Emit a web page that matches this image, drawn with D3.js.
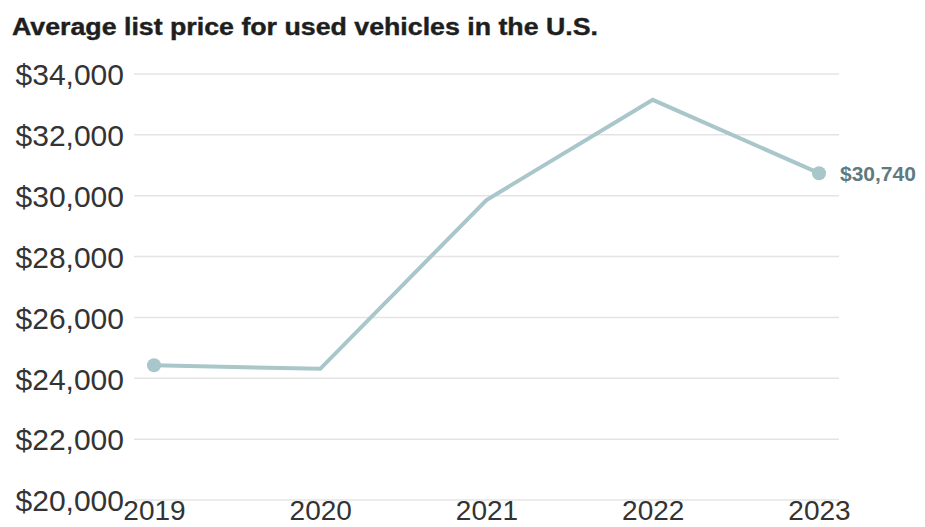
<!DOCTYPE html>
<html><head><meta charset="utf-8">
<script src="https://cdn.jsdelivr.net/npm/d3@7"></script>
<style>body{margin:0;background:#fff;} svg{display:block;}</style>
</head><body>
<svg id="c" width="925" height="527"></svg>
<script>
const title = "Average list price for used vehicles in the U.S.";
const years = [2019, 2020, 2021, 2022, 2023];
const prices = [24430, 24310, 29860, 33150, 30740];
const yTicks = [20000, 22000, 24000, 26000, 28000, 30000, 32000, 34000];
const endLabel = "$30,740";

const svg = d3.select("#c");
const x = d3.scaleLinear().domain([2019, 2023]).range([154, 819]);
const y = d3.scaleLinear().domain([20000, 34000]).range([500, 74]);

svg.append("text").attr("x", 12).attr("y", 35)
  .attr("font-family", "Liberation Sans, Arial, sans-serif")
  .attr("font-weight", "bold").attr("font-size", 23).attr("fill", "#1e1e1e")
  .attr("stroke", "#1e1e1e").attr("stroke-width", 0.4)
  .attr("textLength", 586).attr("lengthAdjust", "spacingAndGlyphs")
  .text(title);

const yAxis = d3.axisLeft(y).tickValues(yTicks).tickSize(0).tickPadding(0)
  .tickFormat(d => "$" + d3.format(",")(d));
const gy = svg.append("g").attr("transform", "translate(124,0)").call(yAxis);
gy.select(".domain").remove();
gy.selectAll("text").attr("font-family", "Liberation Sans, Arial, sans-serif")
  .attr("font-size", 30).attr("fill", "#333").attr("dy", "0.36em");

svg.append("g").selectAll("line").data(yTicks).join("line")
  .attr("x1", 134).attr("x2", 839)
  .attr("y1", d => y(d)).attr("y2", d => y(d))
  .attr("stroke", "#e4e4e4").attr("stroke-width", 1.5);

const xAxis = d3.axisBottom(x).tickValues(years).tickSize(0).tickPadding(0)
  .tickFormat(d3.format("d"));
const gx = svg.append("g").call(xAxis);
gx.select(".domain").remove();
gx.selectAll("text").attr("font-family", "Liberation Sans, Arial, sans-serif")
  .attr("font-size", 28).attr("fill", "#333").attr("y", 520).attr("dy", 0);

const data = years.map((yr, i) => ({yr, v: prices[i]}));
svg.append("path").datum(data)
  .attr("d", d3.line().x(d => x(d.yr)).y(d => y(d.v)))
  .attr("fill", "none").attr("stroke", "#a9c6ca").attr("stroke-width", 4)
  .attr("stroke-linejoin", "miter");

svg.selectAll("circle.end").data([data[0], data[data.length - 1]]).join("circle")
  .attr("cx", d => x(d.yr)).attr("cy", d => y(d.v)).attr("r", 7)
  .attr("fill", "#a9c6ca");

svg.append("text").attr("x", x(2023) + 21).attr("y", y(30740)).attr("dy", "0.36em")
  .attr("font-family", "Liberation Sans, Arial, sans-serif").attr("font-weight", "bold")
  .attr("font-size", 21).attr("fill", "#5e7b80").text(endLabel);
</script>
</body></html>
